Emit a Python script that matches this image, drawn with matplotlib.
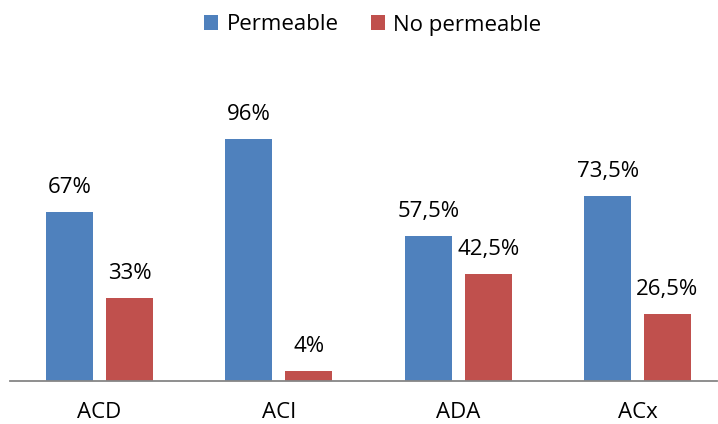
import numpy as np
import matplotlib
matplotlib.use("Agg")
import matplotlib.pyplot as plt
from matplotlib.patches import Patch

# ── Data ──────────────────────────────────────────────────────────────────────
categories    = ["ACD", "ACI", "ADA", "ACx"]
permeable     = [67, 96, 57.5, 73.5]
no_permeable  = [33, 4, 42.5, 26.5]
series_names  = ["Permeable", "No permeable"]

BLUE = "#4F81BD"
RED  = "#C0504D"

plt.rcParams["font.family"] = ["Open Sans", "DejaVu Sans"]


def pct(v):
    s = f"{v:g}".replace(".", ",")
    return s + "%"


W, H = 718, 424
fig = plt.figure(figsize=(W / 100, H / 100), dpi=100)
ax = fig.add_axes([10 / W, (H - 381) / H, 707 / W, 252 / H])

x = np.arange(len(categories))
bw = 0.262
off = 0.167
ax.bar(x - off, permeable, width=bw, color=BLUE, linewidth=0)
ax.bar(x + off, no_permeable, width=bw, color=RED, linewidth=0)

for xi, v in zip(x, permeable):
    ax.annotate(pct(v), (xi - off, v), xytext=(0, 13.7), textcoords="offset points",
                ha="center", va="baseline", fontsize=16, color="#000000")
for xi, v in zip(x, no_permeable):
    ax.annotate(pct(v), (xi + off, v), xytext=(0, 13.7), textcoords="offset points",
                ha="center", va="baseline", fontsize=16, color="#000000")

ax.set_xlim(-0.499, 3.443)
ax.set_ylim(0, 100)
ax.set_xticks(x)
ax.set_xticklabels(categories, fontsize=16)
ax.tick_params(axis="x", length=0, pad=15)
ax.set_yticks([])
for side in ["top", "right", "left"]:
    ax.spines[side].set_visible(False)
ax.spines["bottom"].set_color("#868686")
ax.spines["bottom"].set_linewidth(1.3)

handles = [Patch(facecolor=BLUE, edgecolor="none"), Patch(facecolor=RED, edgecolor="none")]
fig.legend(handles, series_names, loc="center", ncol=2,
           bbox_to_anchor=(373 / W, 1 - 25 / H), frameon=False, fontsize=16,
           handlelength=0.63, handleheight=0.63, handletextpad=0.36,
           columnspacing=1.49, borderaxespad=0, borderpad=0)

fig.savefig("out.png", dpi=100)
